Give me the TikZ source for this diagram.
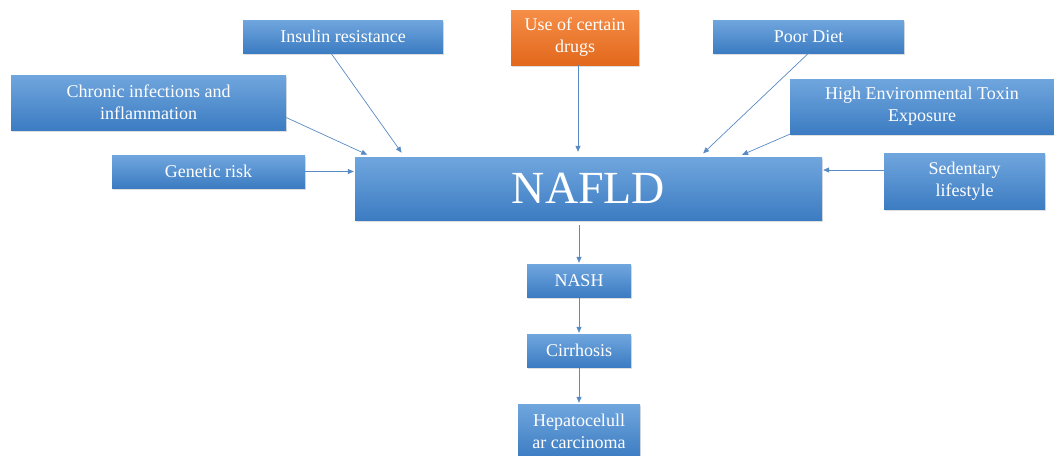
\documentclass[tikz,border=0pt]{standalone}
\usepackage{fontspec}
\setmainfont{LiberationSerif}[Extension=.ttf, UprightFont=*-Regular, BoldFont=*-Bold]
\usetikzlibrary{shadows,arrows.meta}

\definecolor{boxtop}{RGB}{112,166,222}
\definecolor{boxbot}{RGB}{60,124,194}
\definecolor{drugtop}{RGB}{246,142,72}
\definecolor{drugbot}{RGB}{226,104,28}
\definecolor{linkblue}{RGB}{88,138,196}

\begin{document}
\begin{tikzpicture}[x=1pt, y=-1pt,
    cause/.style={rectangle, top color=boxtop, bottom color=boxbot, draw=none,
        text=white, align=center, inner sep=2pt,
        font=\fontsize{18}{22}\selectfont,
        drop shadow={opacity=0.25, shadow xshift=1pt, shadow yshift=-1.5pt}},
    drugbox/.style={cause, top color=drugtop, bottom color=drugbot},
    link/.style={-{Triangle[length=6pt,width=5pt]}, linkblue, line width=0.7pt}
]
\useasboundingbox (0,0) rectangle (1054,455);
\clip (0,0) rectangle (1054,455);

% risk factors
\node[cause, minimum width=200, minimum height=33] (ins) at (343,36.5) {Insulin resistance};
\node[drugbox, minimum width=128, minimum height=55] (drugs) at (575,37.5) {Use of certain\\drugs};
\node[cause, minimum width=191, minimum height=33] (diet) at (808.5,36.5) {Poor Diet};
\node[cause, minimum width=275, minimum height=55] (chronic) at (148.5,102.5) {Chronic infections and\\inflammation};
\node[cause, minimum width=264, minimum height=55] (toxin) at (922,106.5) {High Environmental Toxin\\Exposure};
\node[cause, minimum width=193, minimum height=33] (genetic) at (208.5,171.5) {Genetic risk};
\node[cause, minimum width=161, minimum height=56] (sed) at (964.5,181) {Sedentary\\lifestyle};

% disease
\node[cause, minimum width=467, minimum height=63, font=\fontsize{46}{50}\selectfont] (nafld) at (588.5,188.5) {NAFLD};
\node[cause, minimum width=104, minimum height=33] (nash) at (579,280.5) {NASH};
\node[cause, minimum width=104, minimum height=33] (cirr) at (579,350.5) {Cirrhosis};
\node[cause, minimum width=122, minimum height=54] (hcc) at (579,431) {Hepatocelull\\ar carcinoma};

% arrows into NAFLD
\draw[link, shorten >=5pt] ([xshift=-12pt]ins.south) -- ([xshift=-184pt]nafld.north);
\draw[link, shorten >=5pt] ([yshift=-15pt]chronic.east) -- ([xshift=17pt]nafld.north west);
\draw[link, shorten >=1pt] (genetic.east) -- (genetic.east -| nafld.west);
\draw[link, shorten >=5pt] ([xshift=3pt]drugs.south) -- ([xshift=3pt]drugs.south |- nafld.north);
\draw[link, shorten >=5pt] (diet.south) -- ([xshift=111pt]nafld.north);
\draw[link, shorten >=5pt] (toxin.south west) -- ([xshift=149pt]nafld.north);
\draw[link, shorten >=1pt] ([yshift=11pt]sed.west) -- ([yshift=11pt]sed.west -| nafld.east);

% progression
\draw[link, shorten <=5pt, shorten >=1pt] (nafld.south -| nash) -- (nash);
\draw[link, shorten <=1pt, shorten >=1pt] (nash) -- (cirr);
\draw[link, shorten <=1pt, shorten >=1pt] (cirr) -- (hcc);

\end{tikzpicture}
\end{document}
